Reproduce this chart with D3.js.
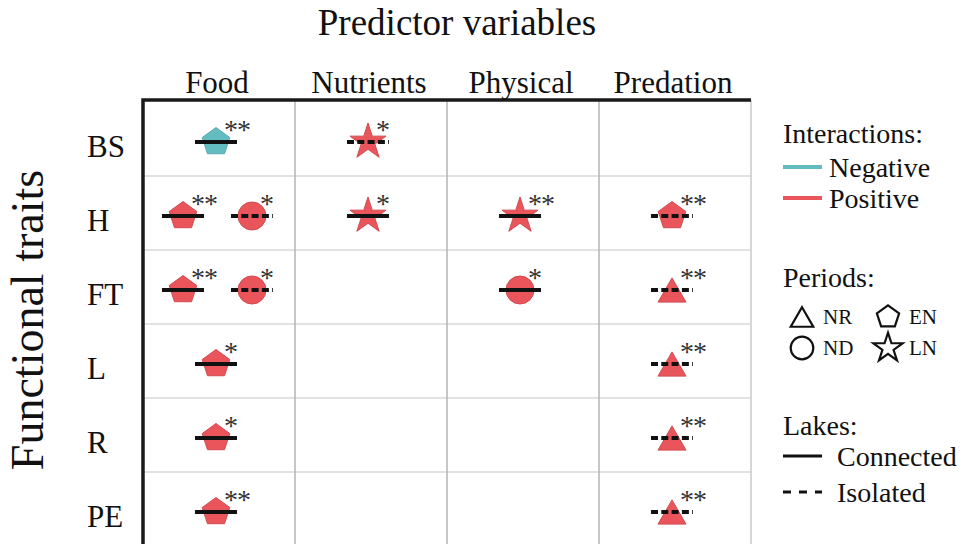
<!DOCTYPE html>
<html>
<head>
<meta charset="utf-8">
<script src="https://cdn.jsdelivr.net/npm/d3@7"></script>
<style>
  body { margin: 0; background: #fff; }
  text { font-family: "Liberation Serif", "Times New Roman", serif; fill: #111; }
</style>
</head>
<body>
<script>
const width = 966,
  height = 544;

// rows and columns of the grid
const traits = ["BS", "H", "FT", "L", "R", "PE"];
const predictors = ["Food", "Nutrients", "Physical", "Predation"];
// legend keys
const periods = ["NR", "ND", "EN", "LN"];
const interactions = ["Negative", "Positive"];
const lakes = ["Connected", "Isolated"];

// trait, predictor, period, interaction, lake, significance
const effects = [
  ["BS", "Food", "EN", "Negative", "Connected", "**"],
  ["BS", "Nutrients", "LN", "Positive", "Isolated", "*"],
  ["H", "Food", "EN", "Positive", "Connected", "**"],
  ["H", "Food", "ND", "Positive", "Isolated", "*"],
  ["H", "Nutrients", "LN", "Positive", "Connected", "*"],
  ["H", "Physical", "LN", "Positive", "Connected", "**"],
  ["H", "Predation", "EN", "Positive", "Isolated", "**"],
  ["FT", "Food", "EN", "Positive", "Connected", "**"],
  ["FT", "Food", "ND", "Positive", "Isolated", "*"],
  ["FT", "Physical", "ND", "Positive", "Connected", "*"],
  ["FT", "Predation", "NR", "Positive", "Isolated", "**"],
  ["L", "Food", "EN", "Positive", "Connected", "*"],
  ["L", "Predation", "NR", "Positive", "Isolated", "**"],
  ["R", "Food", "EN", "Positive", "Connected", "*"],
  ["R", "Predation", "NR", "Positive", "Isolated", "**"],
  ["PE", "Food", "EN", "Positive", "Connected", "**"],
  ["PE", "Predation", "NR", "Positive", "Isolated", "**"]
];

// d3 has no pentagon, so make one
const symPentagon = {
  draw(ctx, size) {
    const r = Math.sqrt(size / 2.3776);
    for (let i = 0; i < 5; i++) {
      const a = -Math.PI / 2 + (i * 2 * Math.PI) / 5;
      if (i) ctx.lineTo(r * Math.cos(a), r * Math.sin(a));
      else ctx.moveTo(r * Math.cos(a), r * Math.sin(a));
    }
    ctx.closePath();
  }
};
// triangle centred on its box (line goes through the middle)
const symTriangle = {
  draw(ctx, size) {
    const s = Math.sqrt((size * 4) / Math.sqrt(3));
    const h = (s * Math.sqrt(3)) / 2;
    ctx.moveTo(0, -h / 2);
    ctx.lineTo(s / 2, h / 2);
    ctx.lineTo(-s / 2, h / 2);
    ctx.closePath();
  }
};

const shape = d3.scaleOrdinal(periods, [symTriangle, d3.symbolCircle, symPentagon, d3.symbolStar]);
const area = d3.scaleOrdinal(periods, [339, 616, 500, 405]);
const color = d3.scaleOrdinal(interactions, ["#63bdc0", "#e9555b"]);
const dash = d3.scaleOrdinal(lakes, [null, "7,3.3"]);

const x = d3.scaleBand(predictors, [143, 751]);
const y = d3.scaleBand(traits, [102, 546]);
const slot = d3.scalePoint([0, 1], [-36, 33]);

const svg = d3
  .select("body")
  .append("svg")
  .attr("width", width)
  .attr("height", height);

// grid
svg
  .selectAll(".hline")
  .data(traits.slice(1))
  .join("line")
  .attr("x1", 143)
  .attr("x2", 751)
  .attr("y1", (d) => y(d))
  .attr("y2", (d) => y(d))
  .attr("stroke", "#e2e2e2")
  .attr("stroke-width", 2);

svg
  .selectAll(".vline")
  .data(predictors.slice(1))
  .join("line")
  .attr("x1", (d) => x(d))
  .attr("x2", (d) => x(d))
  .attr("y1", 100)
  .attr("y2", height)
  .attr("stroke", "#b4b4b4")
  .attr("stroke-width", 1.5);

svg
  .append("line")
  .attr("x1", x.range()[1])
  .attr("x2", x.range()[1])
  .attr("y1", 100)
  .attr("y2", height)
  .attr("stroke", "#d6d6d6")
  .attr("stroke-width", 2);

svg
  .append("path")
  .attr("d", `M${x.range()[1]},100H143V${height}`)
  .attr("fill", "none")
  .attr("stroke", "#1a1a1a")
  .attr("stroke-width", 3.5);

// titles
svg
  .append("text")
  .attr("x", 457)
  .attr("y", 35)
  .attr("text-anchor", "middle")
  .attr("font-size", 37)
  .text("Predictor variables");

svg
  .selectAll(".colLab")
  .data(predictors)
  .join("text")
  .attr("x", (d) => x(d) + x.bandwidth() / 2 - 2)
  .attr("y", 93)
  .attr("text-anchor", "middle")
  .attr("font-size", 31)
  .text((d) => d);

svg
  .selectAll(".rowLab")
  .data(traits)
  .join("text")
  .attr("x", 87)
  .attr("y", (d) => y(d) + y.bandwidth() / 2 + 18)
  .attr("font-size", 31)
  .text((d) => d);

svg
  .append("text")
  .attr("transform", "translate(43,320) rotate(-90)")
  .attr("text-anchor", "middle")
  .attr("font-size", 46)
  .text("Functional traits");

// marks: work out position of each effect inside its cell
const cells = d3.group(effects, (d) => d[0] + "|" + d[1]);
const marks = effects.map((d) => {
  const cell = cells.get(d[0] + "|" + d[1]);
  const cx = x(d[1]) + x.bandwidth() / 2;
  return {
    trait: d[0],
    predictor: d[1],
    period: d[2],
    interaction: d[3],
    lake: d[4],
    sig: d[5],
    px: cell.length > 1 ? cx + slot(cell.indexOf(d)) : cx - 3,
    py: y(d[0]) + y.bandwidth() / 2 + 3
  };
});

const g = svg
  .selectAll(".mark")
  .data(marks)
  .join("g")
  .attr("transform", (d) => `translate(${d.px},${d.py})`);

g.append("path")
  .attr("d", (d) => d3.symbol(shape(d.period), area(d.period))())
  .attr("fill", (d) => color(d.interaction))
  .attr("stroke", (d) => d3.color(color(d.interaction)).darker(0.3))
  .attr("stroke-width", 1);

g.append("line")
  .attr("x1", -21)
  .attr("x2", 21)
  .attr("stroke", "#111")
  .attr("stroke-width", 4)
  .attr("stroke-dasharray", (d) => dash(d.lake));

// significance stars
g.append("text")
  .attr("x", 8)
  .attr("y", -3)
  .attr("font-size", 28)
  .attr("letter-spacing", -1)
  .style("fill", "#333")
  .text((d) => d.sig);

// legend
const lg = svg.append("g");

lg.append("text").attr("x", 783).attr("y", 143).attr("font-size", 28).text("Interactions:");
lg.selectAll(".intKey")
  .data(interactions)
  .join("g")
  .attr("transform", (d, i) => `translate(783,${167 + i * 31})`)
  .call((k) => {
    k.append("line").attr("x2", 39).attr("stroke", (d) => color(d)).attr("stroke-width", 4);
    k.append("text").attr("x", 46).attr("y", 10).attr("font-size", 28).text((d) => d);
  });

lg.append("text").attr("x", 783).attr("y", 287).attr("font-size", 28).text("Periods:");
lg.selectAll(".perKey")
  .data(periods)
  .join("g")
  .attr("transform", (d, i) => `translate(${802 + Math.floor(i / 2) * 86},${317 + (i % 2) * 31})`)
  .call((k) => {
    k.append("path")
      .attr("d", (d) => d3.symbol(shape(d), area(d) * 0.65)())
      .attr("fill", "none")
      .attr("stroke", "#111")
      .attr("stroke-width", 2.2);
    k.append("text").attr("x", 21).attr("y", 7).attr("font-size", 21).text((d) => d);
  });

lg.append("text").attr("x", 783).attr("y", 435).attr("font-size", 28).text("Lakes:");
lg.selectAll(".lakeKey")
  .data(lakes)
  .join("g")
  .attr("transform", (d, i) => `translate(783,${456 + i * 36})`)
  .call((k) => {
    k.append("line")
      .attr("x2", 39)
      .attr("stroke", "#111")
      .attr("stroke-width", 3)
      .attr("stroke-dasharray", (d) => (dash(d) ? "8,8" : null));
    k.append("text").attr("x", 54).attr("y", 10).attr("font-size", 28).text((d) => d);
  });
</script>
</body>
</html>
